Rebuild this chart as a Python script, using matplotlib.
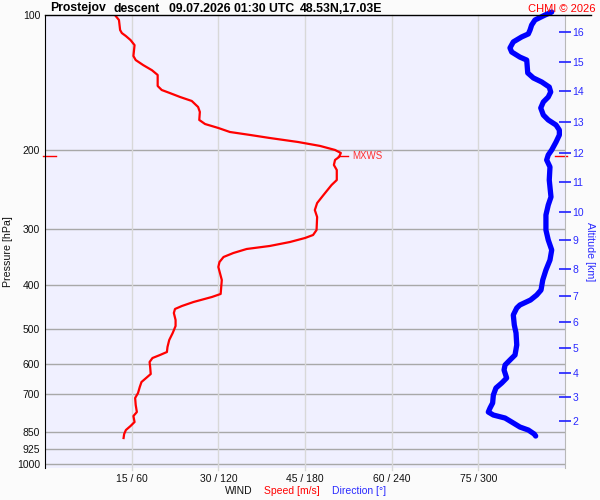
import matplotlib.pyplot as plt
from matplotlib.lines import Line2D
from matplotlib.ticker import NullLocator

plt.rcParams['font.family'] = ['Liberation Sans', 'DejaVu Sans']

# wind speed profile (pressure hPa, speed m/s)
speed_p = [100, 102.6, 108.0, 109.7, 111.4, 113.7, 116.7, 123.4, 126.0, 129.3,
           132.7, 136.0, 143.9, 146.9, 149.2, 152.3, 155.4, 160.3, 164.4, 171.3,
           174.9, 178.5, 182.2, 185.0, 187.9, 191.8, 195.7, 199.8, 202.9, 207.1,
           210.3, 215.8, 221.4, 233.1, 239.1, 251.7, 262.3, 271.9, 281.8, 301.2,
           309.0, 313.8, 320.3, 326.9, 332.0, 338.9, 345.9, 354.9, 364.1, 389.2,
           418.1, 424.6, 435.7, 444.7, 451.6, 461.0, 477.8, 492.8, 510.8, 529.5,
           548.8, 563.1, 571.8, 580.7, 592.7, 608.0, 630.3, 643.4, 656.7, 673.8,
           694.9, 712.9, 739.0, 766.0, 781.9, 806.3, 823.0, 840.1, 857.5, 875.3]
speed_ms = [12.1, 12.8, 13.0, 13.3, 14.0, 14.8, 15.5, 15.3, 15.7, 17.0,
            18.5, 19.5, 19.5, 20.2, 21.6, 23.4, 25.4, 26.5, 26.8, 26.7,
            27.7, 30.0, 32.0, 35.5, 38.9, 43.8, 47.6, 50.2, 51.2, 50.9,
            50.2, 50.0, 50.5, 50.5, 49.6, 48.2, 47.1, 46.7, 47.1, 47.0,
            46.4, 45.0, 42.4, 38.9, 34.9, 32.6, 30.9, 30.2, 30.0, 30.6,
            30.4, 28.9, 25.7, 23.7, 22.5, 22.3, 22.6, 22.6, 22.1, 21.5,
            21.2, 21.1, 19.9, 18.6, 18.1, 18.2, 18.3, 17.5, 16.7, 16.4,
            16.1, 15.6, 15.7, 15.9, 15.3, 15.5, 14.8, 14.0, 13.7, 13.6]

# wind direction profile (pressure hPa, direction deg)
dir_p = [98.5, 100, 102.6, 105.3, 108.0, 110.2, 111.9, 114.8, 118.4, 120.9,
         124.1, 126.0, 134.6, 138.1, 141.0, 144.7, 148.4, 152.3, 156.2, 161.1,
         167.0, 171.3, 175.8, 180.4, 185.0, 191.8, 199.8, 205.0, 210.3, 218.0,
         233.1, 254.3, 265.0, 278.9, 301.2, 317.0, 333.7, 351.3, 369.8, 389.2,
         409.8, 420.4, 431.3, 442.4, 449.3, 465.7, 490.3, 510.8, 543.2, 571.8,
         586.7, 601.9, 617.5, 643.4, 660.1, 677.2, 702.0, 731.4, 750.4, 766.0,
         777.9, 790.0, 806.3, 827.3, 840.1, 857.5, 866.4]
dir_deg = [350.8, 346.2, 339.2, 336.9, 335.8, 334.6, 330.0, 324.2, 321.9, 323.1,
           328.8, 333.5, 334.2, 338.1, 343.9, 349.1, 350.1, 348.4, 345.0, 343.2,
           345.0, 348.4, 353.8, 356.1, 356.1, 353.8, 350.8, 348.4, 347.3, 349.6,
           349.1, 350.3, 348.4, 346.8, 346.8, 348.4, 350.8, 349.6, 346.8, 344.6,
           343.4, 340.4, 336.1, 328.8, 326.6, 324.2, 324.9, 326.1, 326.6, 325.4,
           321.9, 318.5, 317.8, 319.6, 316.2, 312.2, 310.4, 309.9, 308.1, 306.9,
           310.4, 318.5, 323.1, 328.8, 334.6, 338.7, 339.7]

# altitude scale (km) and matching pressure
alt_km = [2, 3, 4, 5, 6, 7, 8, 9, 10, 11, 12, 13, 14, 15, 16]
alt_p = [802, 709, 627, 551, 483, 423, 368, 317, 275, 236, 203, 173, 148, 127, 109]

p_ticks = [100, 200, 300, 400, 500, 600, 700, 850, 925, 1000]
wind_ticks = [15, 30, 45, 60, 75]
wind_labels = ['15 / 60', '30 / 120', '45 / 180', '60 / 240', '75 / 300']

# max wind
mxws_p = 206
mxws_speed = 51.2

fig = plt.figure(figsize=(6, 5), dpi=100, facecolor='#fbfbfb')
ax = fig.add_axes([45/600, 1-468/500, 520/600, 453/500])
ax.set_facecolor('#f0f0ff')
ax.set_yscale('log')
ax.set_xlim(0, 90)
ax.set_ylim(1020.7, 100)

# grid
for p in p_ticks[1:]:
    ax.axhline(p, color='#a8a8a8', lw=1, zorder=1)
for w in wind_ticks:
    ax.axvline(w, ymin=-0.005, ymax=1, color='#d8d8d8', lw=1, zorder=1, clip_on=False)

ax.plot(speed_ms, speed_p, color='red', lw=1.6, zorder=3)

ax.set_yticks(p_ticks)
ax.set_yticklabels([str(p) for p in p_ticks])
ax.yaxis.set_minor_locator(NullLocator())
ax.tick_params(axis='y', length=0, pad=3.5, labelsize=7.5, labelcolor='#111111')
ax.set_xticks(wind_ticks)
ax.set_xticklabels(wind_labels)
ax.tick_params(axis='x', length=0, pad=4, labelsize=7.5, labelcolor='#111111')

for side in ['top', 'bottom']:
    ax.spines[side].set_visible(False)
ax.spines['left'].set_color('black')
ax.spines['right'].set_color('#b8b8b8')

# direction on its own x scale
ax2 = ax.twiny()
ax2.set_xlim(0, 360)
ax2.set_xticks([])
for s in ax2.spines.values():
    s.set_visible(False)
ax2.plot(dir_deg, dir_p, color='#0000ff', lw=3.8, solid_capstyle='round',
         zorder=3, clip_on=False)

# altitude axis
ax3 = ax.twinx()
ax3.set_yscale('log')
ax3.set_ylim(1020.7, 100)
ax3.set_yticks(alt_p)
ax3.set_yticklabels([str(a) for a in alt_km])
ax3.yaxis.set_minor_locator(NullLocator())
ax3.tick_params(axis='y', direction='inout', length=8, width=1.2, color='#2020ff',
                labelcolor='#2a2aff', labelsize=7.5, pad=1.5)
for s in ax3.spines.values():
    s.set_visible(False)

# MXWS markers
yt = ax.get_yaxis_transform()
ax.plot([-0.004, 0.021], [mxws_p, mxws_p], color='red', lw=1, transform=yt, clip_on=False)
ax.plot([0.981, 1.004], [mxws_p, mxws_p], color='red', lw=1, transform=yt, clip_on=False)
ax.plot([mxws_speed - 0.5, mxws_speed + 1.3], [mxws_p, mxws_p], color='red', lw=1)
ax.text(mxws_speed + 1.9, mxws_p, 'MXWS', color='#ff3030', fontsize=7,
        va='center', ha='left')

# title and labels
fig.add_artist(Line2D([45/600, 591/600], [1-15/500, 1-15/500], color='black', lw=1))
title_parts = ['Prostejov', 'descent', '09.07.2026 01:30 UTC', '48.53N,17.03E']
title_x = [50, 114, 169, 300]
for t, x in zip(title_parts, title_x):
    fig.text(x/600, 1-11.5/500, t, fontsize=8.8, fontweight='bold', va='baseline', ha='left')
fig.text(596/600, 1-11.5/500, 'CHMI © 2026', fontsize=8, color='red', va='baseline', ha='right')

fig.text(8/600, 1-252/500, 'Pressure [hPa]', rotation=90, fontsize=7.7,
         va='center', ha='center', color='#111111')
fig.text(590/600, 1-252/500, 'Altitude [km]', rotation=-90, fontsize=7.7,
         va='center', ha='center', color='#2a2aff')

fig.text(225/600, 1-491/500, 'WIND', fontsize=7.5, va='center', ha='left', color='#111111')
fig.text(264/600, 1-491/500, 'Speed [m/s]', fontsize=7.5, va='center', ha='left', color='red')
fig.text(332/600, 1-491/500, 'Direction [°]', fontsize=7.5, va='center', ha='left', color='#2a2aff')

fig.savefig('out.png', dpi=100, facecolor=fig.get_facecolor())
